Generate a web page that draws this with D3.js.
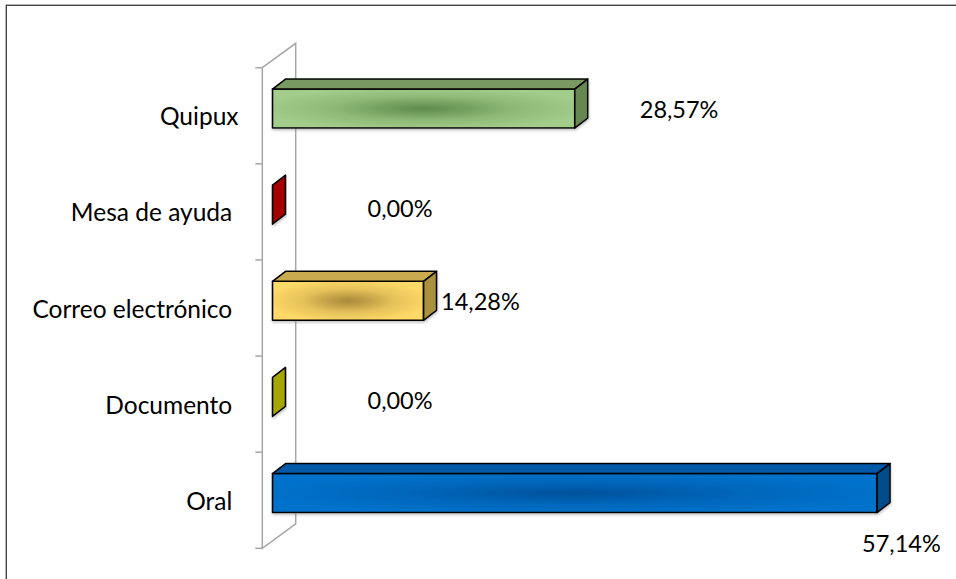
<!DOCTYPE html>
<html>
<head>
<meta charset="utf-8">
<script src="https://cdn.jsdelivr.net/npm/d3@7"></script>
<style>
  html, body { margin: 0; padding: 0; background: #fff; }
  svg { display: block; }
  text { font-family: Lato, "Open Sans", sans-serif; fill: #000; white-space: pre; }
</style>
</head>
<body>
<svg id="chart" width="956" height="579"></svg>
<script>
// Categories, top to bottom, and their shares (%)
const categories = ["Quipux", "Mesa de ayuda ", "Correo electrónico ", "Documento ", "Oral "];
const values = [28.57, 0.00, 14.28, 0.00, 57.14];
const valueLabels = ["28,57%", "0,00%", "14,28%", "0,00%", "57,14%"];

// Face colours per bar: front edge, front centre, top, side
const palette = [
  { edge: "#a2cd8a", centre: "#5f8b4c", top: "#78995f", side: "#66874f" },
  { edge: "#c00000", centre: "#7a0000", top: "#a80000", side: "#a40000" },
  { edge: "#ffda68", centre: "#a9893a", top: "#c9aa4f", side: "#a9913e" },
  { edge: "#c4c400", centre: "#8a8a00", top: "#a8a800", side: "#a6a600" },
  { edge: "#0072cb", centre: "#00529c", top: "#0059a6", side: "#004c8c" }
];

const svg = d3.select("#chart");

// Outer chart frame
svg.append("rect")
  .attr("x", 6.3).attr("y", 5.3)
  .attr("width", 980).attr("height", 600)
  .attr("fill", "none").attr("stroke", "#444").attr("stroke-width", 1.4);

// 3D projection: wall depth and bar depth
const wall = { dx: 33.4, dy: -24.4 };
const bar = { dx: 13, dy: -10 };
const shift = { dx: (wall.dx - bar.dx) / 2, dy: (wall.dy - bar.dy) / 2 };

const plotTop = 67.7, plotBottom = 548.3, plotLeft = 262.3;

const y = d3.scaleBand()
  .domain(categories)
  .range([plotTop, plotBottom])
  .paddingInner(0.594)
  .paddingOuter(0.297);

const x = d3.scaleLinear()
  .domain([0, 60])
  .range([plotLeft, plotLeft + 60 * 10.58]);

const defs = svg.append("defs");
const shadow = defs.append("filter").attr("id", "shade")
  .attr("x", "-5%").attr("y", "-20%").attr("width", "110%").attr("height", "160%");
shadow.append("feDropShadow")
  .attr("dx", 0.5).attr("dy", 1.8).attr("stdDeviation", 1)
  .attr("flood-color", "#808080").attr("flood-opacity", 0.45);

palette.forEach((p, i) => {
  const g = defs.append("radialGradient")
    .attr("id", "front" + i)
    .attr("cx", 0.5).attr("cy", 0.5).attr("r", 0.55);
  const mix = d3.interpolateRgb(p.centre, p.edge);
  g.append("stop").attr("offset", "0%").attr("stop-color", p.centre);
  g.append("stop").attr("offset", "25%").attr("stop-color", mix(0.3));
  g.append("stop").attr("offset", "55%").attr("stop-color", mix(0.7));
  g.append("stop").attr("offset", "100%").attr("stop-color", p.edge);
});

// Side wall (the category axis) drawn as a parallelogram outline
const wallG = svg.append("g")
  .attr("fill", "none").attr("stroke", "#a6a6a6").attr("stroke-width", 1.5);
wallG.append("path").attr("d", d3.line()([
  [plotLeft, plotTop], [plotLeft + wall.dx, plotTop + wall.dy],
  [plotLeft + wall.dx, plotBottom + wall.dy], [plotLeft, plotBottom], [plotLeft, plotTop]
]));
const step = y.step();
d3.range(categories.length + 1).forEach(i => {
  const ty = plotTop + i * step;
  wallG.append("line")
    .attr("x1", plotLeft - 7).attr("x2", plotLeft)
    .attr("y1", ty).attr("y2", ty);
});

// Category labels
svg.append("g").selectAll("text")
  .data(categories)
  .join("text")
  .attr("x", 238.5)
  .attr("y", d => y(d) + y.bandwidth() / 2 + 9.5)
  .attr("text-anchor", "end")
  .attr("font-size", 24.5)
  .text(d => d);

// Bars as 3D boxes: front face, top face, side face
const bars = svg.append("g")
  .attr("stroke", "#000").attr("stroke-width", 1.6).attr("stroke-linejoin", "round");

categories.forEach((c, i) => {
  const x0 = x(0) + shift.dx;
  const x1 = x(values[i]) + shift.dx;
  const y0 = y(c) + shift.dy;
  const y1 = y0 + y.bandwidth();
  const p = palette[i];
  const g = bars.append("g").attr("filter", "url(#shade)");
  if (x1 - x0 > 0.5) {
    g.append("rect")
      .attr("x", x0).attr("y", y0)
      .attr("width", x1 - x0).attr("height", y1 - y0)
      .attr("fill", `url(#front${i})`);
    g.append("path")
      .attr("d", d3.line()([[x0, y0], [x1, y0], [x1 + bar.dx, y0 + bar.dy], [x0 + bar.dx, y0 + bar.dy]]) + "Z")
      .attr("fill", p.top);
  }
  g.append("path")
    .attr("d", d3.line()([[x1, y0], [x1 + bar.dx, y0 + bar.dy], [x1 + bar.dx, y1 + bar.dy], [x1, y1]]) + "Z")
    .attr("fill", p.side);
});

// Value labels, nudged from each bar's front end as the 3D layout places them
const labelNudge = [
  { dx: 65, dy: 2 }, { dx: 95, dy: 4.8 }, { dx: 17.5, dy: 2 }, { dx: 95, dy: 5.2 }, { dx: -15, dy: 51.5 }
];
svg.append("g").selectAll("text")
  .data(categories)
  .join("text")
  .attr("x", (d, i) => x(values[i]) + shift.dx + labelNudge[i].dx)
  .attr("y", (d, i) => y(d) + y.bandwidth() / 2 + labelNudge[i].dy)
  .attr("font-size", 23.5)
  .text((d, i) => valueLabels[i]);
</script>
</body>
</html>
